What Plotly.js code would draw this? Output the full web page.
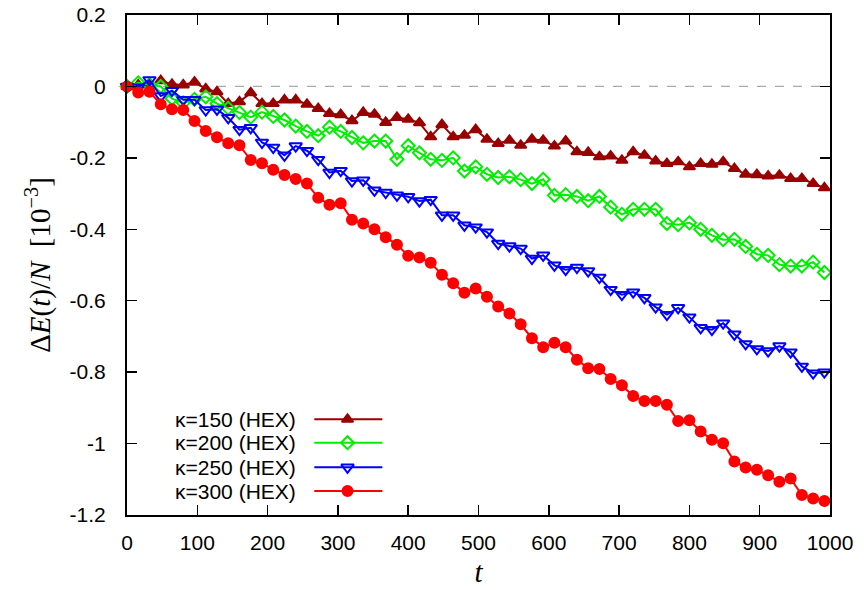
<!DOCTYPE html>
<html>
<head>
<meta charset="utf-8">
<script src="https://cdn.plot.ly/plotly-3.0.1.min.js"></script>
<style>html,body{margin:0;padding:0;background:#fff;}#chart{width:864px;height:590px;}</style>
</head>
<body>
<div id="chart"></div>
<script>
// time points
const tValues = [0,16,32,48,64,80,96,112,128,144,160,176,192,208,224,240,256,272,288,304,320,336,352,368,384,400,416,432,448,464,480,496,512,528,544,560,576,592,608,624,640,656,672,688,704,720,736,752,768,784,800,816,832,848,864,880,896,912,928,944,960,976,992];

const seriesNames = ["κ=150 (HEX)", "κ=200 (HEX)", "κ=250 (HEX)", "κ=300 (HEX)"];

const kappa150 = [0,0.004,0.004,0.016,0.006,0.004,0.012,-0.007,-0.015,-0.048,-0.043,-0.018,-0.048,-0.048,-0.038,-0.038,-0.050,-0.062,-0.076,-0.079,-0.096,-0.073,-0.078,-0.101,-0.087,-0.092,-0.102,-0.141,-0.107,-0.141,-0.137,-0.121,-0.148,-0.160,-0.151,-0.165,-0.148,-0.151,-0.167,-0.153,-0.183,-0.185,-0.197,-0.195,-0.207,-0.183,-0.193,-0.209,-0.216,-0.211,-0.225,-0.216,-0.218,-0.211,-0.230,-0.246,-0.247,-0.251,-0.249,-0.258,-0.258,-0.272,-0.284];

const kappa200 = [0,0.010,0.005,0.000,-0.034,-0.046,-0.036,-0.029,-0.048,-0.061,-0.073,-0.086,-0.072,-0.084,-0.094,-0.111,-0.126,-0.138,-0.114,-0.126,-0.143,-0.158,-0.153,-0.153,-0.204,-0.166,-0.186,-0.204,-0.207,-0.200,-0.237,-0.225,-0.246,-0.255,-0.253,-0.261,-0.272,-0.260,-0.305,-0.303,-0.308,-0.320,-0.308,-0.338,-0.358,-0.344,-0.344,-0.344,-0.384,-0.387,-0.382,-0.400,-0.417,-0.429,-0.428,-0.448,-0.470,-0.473,-0.499,-0.503,-0.503,-0.492,-0.521];

const kappa250 = [0,-0.002,0.018,-0.027,-0.012,-0.037,-0.037,-0.066,-0.064,-0.088,-0.121,-0.116,-0.157,-0.171,-0.193,-0.167,-0.180,-0.205,-0.241,-0.236,-0.265,-0.263,-0.291,-0.297,-0.305,-0.309,-0.321,-0.317,-0.361,-0.361,-0.389,-0.394,-0.408,-0.440,-0.447,-0.454,-0.482,-0.473,-0.501,-0.513,-0.507,-0.517,-0.535,-0.569,-0.583,-0.576,-0.592,-0.618,-0.639,-0.620,-0.646,-0.676,-0.681,-0.663,-0.694,-0.721,-0.735,-0.741,-0.727,-0.744,-0.784,-0.803,-0.800];

const kappa300 = [0,-0.017,-0.015,-0.050,-0.064,-0.066,-0.097,-0.125,-0.142,-0.159,-0.165,-0.206,-0.215,-0.233,-0.248,-0.259,-0.272,-0.312,-0.331,-0.327,-0.373,-0.384,-0.400,-0.422,-0.443,-0.474,-0.479,-0.494,-0.527,-0.551,-0.578,-0.566,-0.589,-0.616,-0.636,-0.666,-0.705,-0.730,-0.718,-0.730,-0.765,-0.789,-0.791,-0.819,-0.837,-0.867,-0.881,-0.881,-0.891,-0.937,-0.935,-0.966,-0.989,-0.999,-1.050,-1.067,-1.073,-1.089,-1.107,-1.098,-1.144,-1.154,-1.161];

const xTickVals = [0,100,200,300,400,500,600,700,800,900,1000];
const xTickText = ["0","100","200","300","400","500","600","700","800","900","1000"];
const yTickVals = [0.2,0,-0.2,-0.4,-0.6,-0.8,-1,-1.2];
const yTickText = ["0.2","0","-0.2","-0.4","-0.6","-0.8","-1","-1.2"];

// styles
const seriesY = [kappa150, kappa200, kappa250, kappa300];
const colors = ["#990000", "#00ee00", "#0000ff", "#ff0000"];
const symbols = ["triangle-up", "diamond-open", "triangle-down-open", "circle"];
const sizes = [10, 10, 11, 10];

const traces = [];
for (let i = 0; i < 4; i++) {
  traces.push({
    x: tValues, y: seriesY[i], type: "scatter", mode: "lines+markers",
    name: seriesNames[i], showlegend: false, cliponaxis: false,
    line: {color: colors[i], width: 2},
    marker: {symbol: symbols[i], size: sizes[i], color: colors[i], line: {color: colors[i], width: 2}}
  });
}

// custom gnuplot-style legend (text left, sample right) on a hidden overlay axis
const legTextX = 0.2437, legX0 = 0.2664, legXm = 0.3137, legX1 = 0.3632;
const legRows = [0.1914, 0.1446, 0.0954, 0.048];
const annotations = [];
for (let i = 0; i < 4; i++) {
  traces.push({
    x: [legX0, legXm, legX1], y: [legRows[i], legRows[i], legRows[i]],
    xaxis: "x2", yaxis: "y2", type: "scatter", mode: "lines+markers",
    showlegend: false, hoverinfo: "skip", cliponaxis: false,
    line: {color: colors[i], width: 2},
    marker: {symbol: symbols[i], size: sizes[i], color: colors[i], opacity: [0, 1, 0], line: {color: colors[i], width: 2}}
  });
  annotations.push({
    xref: "paper", yref: "paper", x: legTextX, y: legRows[i], xanchor: "right", yanchor: "middle",
    text: seriesNames[i], showarrow: false,
    font: {family: "Liberation Sans, Arial, sans-serif", size: 21, color: "#000"}
  });
}

const layout = {
  width: 864, height: 590,
  margin: {l: 127, r: 34, t: 15, b: 75},
  paper_bgcolor: "#fff", plot_bgcolor: "#fff",
  showlegend: false,
  font: {family: "Liberation Sans, Arial, sans-serif", size: 21, color: "#000"},
  xaxis: {
    range: [0, 1000], tickvals: xTickVals, ticktext: xTickText,
    ticks: "inside", ticklen: 10, tickwidth: 1.5, tickcolor: "#000",
    showline: true, linewidth: 2, linecolor: "#000", mirror: "allticks",
    showgrid: false, zeroline: false, ticklabelstandoff: 8,
    title: {text: "<i>t</i>", font: {family: "Liberation Serif, DejaVu Serif, serif", size: 29}, standoff: 8}
  },
  yaxis: {
    range: [-1.2, 0.2], tickvals: yTickVals, ticktext: yTickText,
    ticks: "inside", ticklen: 10, tickwidth: 1.5, tickcolor: "#000",
    showline: true, linewidth: 2, linecolor: "#000", mirror: "allticks",
    showgrid: false, zeroline: false, ticklabelstandoff: 15,
    title: {text: "Δ<i>E</i>(<i>t</i>)/<i>N</i>  [10<sup>−3</sup>]", font: {family: "Liberation Serif, DejaVu Serif, serif", size: 29}, standoff: 10}
  },
  xaxis2: {overlaying: "x", range: [0, 1], visible: false, fixedrange: true},
  yaxis2: {overlaying: "y", range: [0, 1], visible: false, fixedrange: true},
  shapes: [{
    type: "line", xref: "paper", yref: "y", x0: 0, x1: 1, y0: 0, y1: 0,
    line: {color: "#aaaaaa", width: 1.2, dash: "dash"}, layer: "below"
  }],
  annotations: annotations
};

Plotly.newPlot("chart", traces, layout, {displayModeBar: false, staticPlot: true});
</script>
</body>
</html>
